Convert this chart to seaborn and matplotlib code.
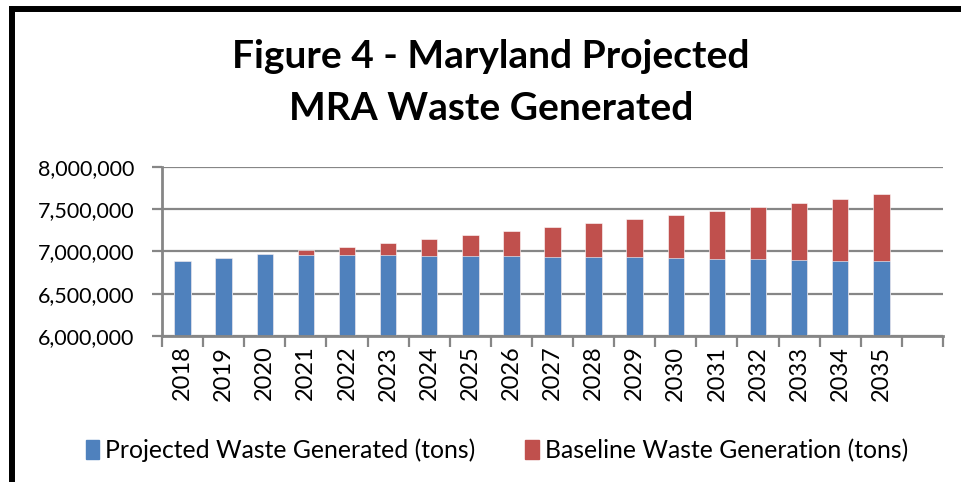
import pandas as pd
import matplotlib.pyplot as plt
import seaborn as sns
from matplotlib.lines import Line2D
from matplotlib.ticker import FuncFormatter, FixedLocator

# Data (tons)
years = [str(y) for y in range(2018, 2036)]
projected = [6886000, 6925000, 6965000, 6957000, 6953000, 6953000, 6949000, 6945000, 6941000,
             6937000, 6933000, 6929000, 6921000, 6913000, 6906000, 6898000, 6886000, 6882000]
baseline = [6886000, 6925000, 6965000, 7012000, 7051000, 7099000, 7146000, 7193000, 7240000,
            7287000, 7335000, 7382000, 7429000, 7477000, 7524000, 7575000, 7618000, 7674000]

df = pd.DataFrame({'Year': years, 'Projected': projected, 'Baseline': baseline})

sns.set_style('white')
plt.rcParams['font.family'] = ['Lato', 'DejaVu Sans']
plt.rcParams['text.color'] = 'black'
plt.rcParams['xtick.labelcolor'] = 'black'
plt.rcParams['ytick.labelcolor'] = 'black'

fig = plt.figure(figsize=(9.61, 4.82), dpi=100)
ax = fig.add_axes([162/961, 1-336/482, (943-162)/961, (336-166.7)/482])

# baseline drawn behind, projected over it
sns.barplot(data=df, x='Year', y='Baseline', color='#C0504D', width=0.4, saturation=1, ax=ax,
            edgecolor='white', linewidth=0.4)
sns.barplot(data=df, x='Year', y='Projected', color='#4F81BD', width=0.4, saturation=1, ax=ax,
            edgecolor='white', linewidth=0.4)

ax.set_ylim(6000000, 8000000)
ax.set_xlim(-0.5, len(years) + 0.5)
ax.set_yticks([6000000, 6500000, 7000000, 7500000, 8000000])
ax.yaxis.set_major_formatter(FuncFormatter(lambda v, p: f'{int(v):,}'))
ax.yaxis.grid(True, color='#868686', linewidth=1.6)
ax.set_axisbelow(True)
ax.set_xlabel('')
ax.set_ylabel('')

ax.set_xticks(range(len(years)))
ax.set_xticklabels(years, rotation=90, fontsize=17)
ax.xaxis.set_minor_locator(FixedLocator([i - 0.5 for i in range(len(years) + 2)]))
ax.tick_params(axis='x', which='major', length=0, pad=7)
ax.tick_params(axis='x', which='minor', length=8, width=1.6, color='#868686', bottom=True)
ax.tick_params(axis='y', length=7, width=1.6, color='#868686', left=True, labelsize=15.5, pad=13)

for s in ['top', 'right']:
    ax.spines[s].set_visible(False)
for s in ['left', 'bottom']:
    ax.spines[s].set_color('#868686')
    ax.spines[s].set_linewidth(2)

fig.text(0.511, 1-57/482, 'Figure 4 - Maryland Projected', ha='center', va='center',
         fontsize=28, fontweight='bold')
fig.text(0.511, 1-109/482, 'MRA Waste Generated', ha='center', va='center',
         fontsize=28, fontweight='bold')

handles = [plt.Rectangle((0, 0), 1, 1, color='#4F81BD'), plt.Rectangle((0, 0), 1, 1, color='#C0504D')]
fig.legend(handles, ['Projected Waste Generated (tons)', 'Baseline Waste Generation (tons)'],
           loc='center', bbox_to_anchor=(0.517, 1-450/482), ncol=2, frameon=False, fontsize=17.8,
           handlelength=0.55, handleheight=0.8, handletextpad=0.25, columnspacing=2.0)

# chart frame (left and top edges visible)
fig.add_artist(Line2D([12/961, 12/961], [0, 1-9/482], color='black', linewidth=4.3,
                      transform=fig.transFigure))
fig.add_artist(Line2D([12/961, 1], [1-9/482, 1-9/482], color='black', linewidth=4.3,
                      transform=fig.transFigure, solid_capstyle='projecting'))

fig.savefig('out.png', dpi=100, facecolor='white')
